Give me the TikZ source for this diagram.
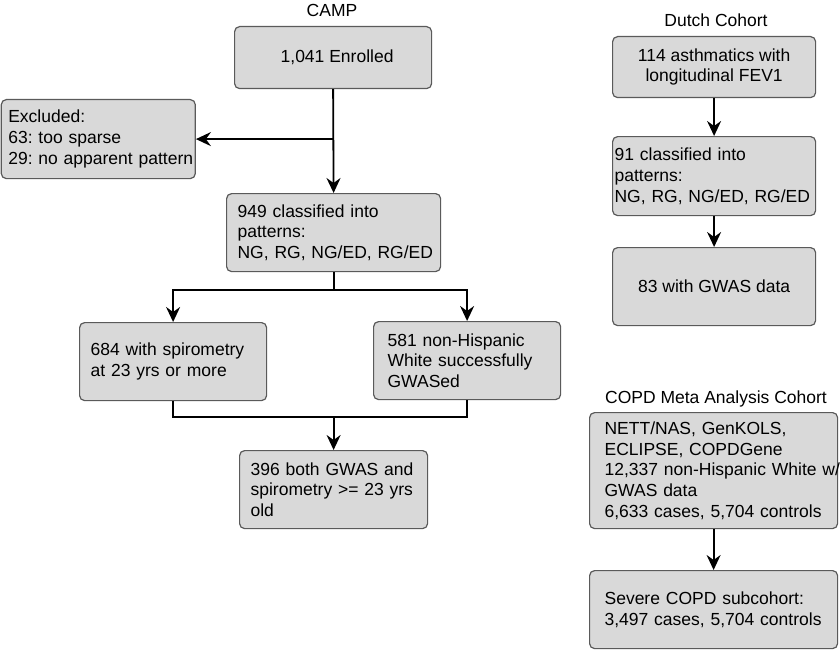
\documentclass[tikz,border=0pt]{standalone}
\usepackage{fontspec}
\setmainfont{Liberation Sans}
\usetikzlibrary{arrows.meta}
\definecolor{boxfill}{RGB}{217,217,217}
\definecolor{boxline}{RGB}{90,90,90}
\newcommand{\boxfontset}{\fontsize{17.5}{20.7}\selectfont\frenchspacing\hyphenpenalty=10000\relax\exhyphenpenalty=10000\relax}
\begin{document}
\begin{tikzpicture}[x=1pt,y=-1pt,
  box/.style={draw=boxline, fill=boxfill, line width=1.2pt, rounded corners=5pt,
    anchor=north west, inner ysep=0pt, font=\boxfontset},
  lbox/.style={box, align=left},
  cbox/.style={box, align=center},
  ln/.style={line width=1.8pt},
  arr/.style={ln, -{Stealth[length=15pt,width=14pt,inset=5pt]}},
  ttl/.style={anchor=base, font=\fontsize{17.5}{20.7}\selectfont}]
\useasboundingbox (0,0) rectangle (840,650);

% CAMP
\node[ttl] (tcamp) at (332,17) {CAMP};
\node[cbox, minimum width=197pt, minimum height=62pt] (enr) at (234,26) {\hspace*{8pt}1,041 Enrolled};
\node[lbox, inner xsep=7pt, text width=180pt, minimum height=79pt] (exc) at (0.7,99)
  {Excluded:\\63: too sparse\\29:~no~apparent~pattern};
\node[lbox, inner xsep=11pt, text width=192pt, minimum height=78pt] (cls) at (226,193)
  {949 classified into\\patterns:\\NG,~RG,~NG/ED,~RG/ED};
\node[lbox, inner xsep=11pt, text width=165pt, minimum height=78pt] (sp) at (79,322)
  {684~with~spirometry\\at~23~yrs~or~more};
\node[lbox, inner xsep=14pt, text width=159pt, minimum height=78pt] (gw) at (373,321)
  {581~non-Hispanic\\White~successfully\\GWASed};
\node[lbox, inner xsep=11pt, text width=166pt, minimum height=78pt] (both) at (239,450)
  {396~both~GWAS~and\\spirometry~>=~23~yrs\\old};

\draw[arr] (enr.south) -- (cls.north);
\draw[arr] (enr.south |- exc.east) -- (exc.east);
\draw[ln] (cls.south) -- ++(0,18) coordinate (split);
\draw[arr] (split) -| (sp.north);
\draw[arr] (split) -| (gw.north);
\path (both.north) ++(0,-33) coordinate (merge);
\draw[ln] (sp.south) |- (merge) -| (gw.south);
\draw[arr] (merge) -- (both.north);

% Dutch
\node[ttl] (tdutch) at (716,27) {Dutch Cohort};
\node[cbox, minimum width=203pt, minimum height=61pt] (d1) at (612,36)
  {114 asthmatics with\\longitudinal FEV1};
\node[lbox, inner xsep=2pt, text width=199pt, minimum height=79pt] (d2) at (612,136)
  {91 classified into\\patterns:\\NG,~RG,~NG/ED,~RG/ED};
\node[cbox, minimum width=203pt, minimum height=78pt] (d3) at (612,247)
  {83 with GWAS data};
\draw[arr] (d1.south) -- (d2.north);
\draw[arr] (d2.south) -- (d3.north);

% COPD
\node[ttl] (tcopd) at (716,403) {COPD Meta Analysis Cohort};
\node[lbox, inner xsep=15pt, text width=218pt, minimum height=116pt] (c1) at (589,412)
  {NETT/NAS,~GenKOLS,\\ECLIPSE,~COPDGene\\12,337~non-Hispanic~White~w/\\GWAS~data\\6,633~cases,~5,704~controls};
\node[lbox, inner xsep=15pt, text width=218pt, minimum height=78pt] (c2) at (589,570)
  {Severe~COPD~subcohort:\\3,497~cases,~5,704~controls};
\draw[arr] (c1.south) -- (c2.north);
\end{tikzpicture}
\end{document}
